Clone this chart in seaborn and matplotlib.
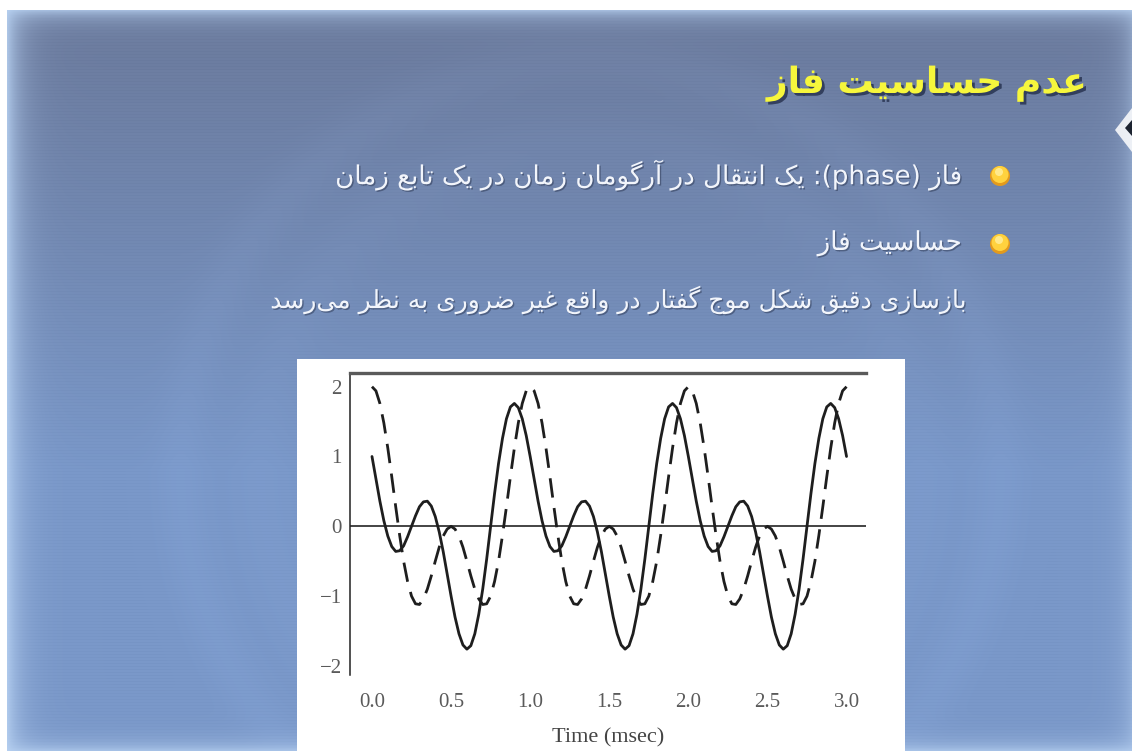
import re
import numpy as np
import matplotlib
matplotlib.use("Agg")
import matplotlib.pyplot as plt
import matplotlib.patheffects as pe
from matplotlib.patches import Circle, Polygon, Rectangle
import seaborn as sns

# ---------------------------------------------------------------- text
TITLE = "عدم حساسیت فاز"
BULLETS = [
    "فاز (phase): یک انتقال در آرگومان زمان در یک تابع زمان",
    "حساسیت فاز",
]
NOTE = "بازسازی دقیق شکل موج گفتار در واقع غیر ضروری به نظر می\u200cرسد"
X_LABEL = "Time (msec)"
X_TICKS = [0.0, 0.5, 1.0, 1.5, 2.0, 2.5, 3.0]
Y_TICKS = [-2, -1, 0, 1, 2]

# ---------------------------------------------------------------- data
STEP_MS = 0.025  # sample spacing of the two waveforms (msec)

# waveform with shifted second harmonic (solid)
SOLID = [
    1.00, 0.68, 0.36, 0.08, -0.14, -0.29, -0.36, -0.35, -0.28, -0.15,
    0.00, 0.15, 0.28, 0.35, 0.36, 0.29, 0.14, -0.08, -0.36, -0.68,
    -1.00, -1.30, -1.54, -1.70, -1.76, -1.71, -1.54, -1.26, -0.90, -0.47,
    0.00, 0.47, 0.90, 1.26, 1.54, 1.71, 1.76, 1.70, 1.54, 1.30,
    1.00, 0.68, 0.36, 0.08, -0.14, -0.29, -0.36, -0.35, -0.28, -0.15,
    0.00, 0.15, 0.28, 0.35, 0.36, 0.29, 0.14, -0.08, -0.36, -0.68,
    -1.00, -1.30, -1.54, -1.70, -1.76, -1.71, -1.54, -1.26, -0.90, -0.47,
    0.00, 0.47, 0.90, 1.26, 1.54, 1.71, 1.76, 1.70, 1.54, 1.30,
    1.00, 0.68, 0.36, 0.08, -0.14, -0.29, -0.36, -0.35, -0.28, -0.15,
    0.00, 0.15, 0.28, 0.35, 0.36, 0.29, 0.14, -0.08, -0.36, -0.68,
    -1.00, -1.30, -1.54, -1.70, -1.76, -1.71, -1.54, -1.26, -0.90, -0.47,
    0.00, 0.47, 0.90, 1.26, 1.54, 1.71, 1.76, 1.70, 1.54, 1.30,
    1.00,
]

# waveform with both harmonics in phase (dashed)
DASHED = [
    2.00, 1.94, 1.76, 1.48, 1.12, 0.71, 0.28, -0.13, -0.50, -0.79,
    -1.00, -1.11, -1.12, -1.04, -0.90, -0.71, -0.50, -0.30, -0.14, -0.04,
    0.00, -0.04, -0.14, -0.30, -0.50, -0.71, -0.90, -1.04, -1.12, -1.11,
    -1.00, -0.79, -0.50, -0.13, 0.28, 0.71, 1.12, 1.48, 1.76, 1.94,
    2.00, 1.94, 1.76, 1.48, 1.12, 0.71, 0.28, -0.13, -0.50, -0.79,
    -1.00, -1.11, -1.12, -1.04, -0.90, -0.71, -0.50, -0.30, -0.14, -0.04,
    0.00, -0.04, -0.14, -0.30, -0.50, -0.71, -0.90, -1.04, -1.12, -1.11,
    -1.00, -0.79, -0.50, -0.13, 0.28, 0.71, 1.12, 1.48, 1.76, 1.94,
    2.00, 1.94, 1.76, 1.48, 1.12, 0.71, 0.28, -0.13, -0.50, -0.79,
    -1.00, -1.11, -1.12, -1.04, -0.90, -0.71, -0.50, -0.30, -0.14, -0.04,
    0.00, -0.04, -0.14, -0.30, -0.50, -0.71, -0.90, -1.04, -1.12, -1.11,
    -1.00, -0.79, -0.50, -0.13, 0.28, 0.71, 1.12, 1.48, 1.76, 1.94,
    2.00,
]

# ---------------------------------------------------------------- Persian shaping
# isolated, final, initial, medial presentation forms
FORMS = {
    "\u0627": (0xFE8D, 0xFE8E, None, None),
    "\u0622": (0xFE81, 0xFE82, None, None),
    "\u0628": (0xFE8F, 0xFE90, 0xFE91, 0xFE92),
    "\u067E": (0xFB56, 0xFB57, 0xFB58, 0xFB59),
    "\u062A": (0xFE95, 0xFE96, 0xFE97, 0xFE98),
    "\u062B": (0xFE99, 0xFE9A, 0xFE9B, 0xFE9C),
    "\u062C": (0xFE9D, 0xFE9E, 0xFE9F, 0xFEA0),
    "\u0686": (0xFB7A, 0xFB7B, 0xFB7C, 0xFB7D),
    "\u062D": (0xFEA1, 0xFEA2, 0xFEA3, 0xFEA4),
    "\u062E": (0xFEA5, 0xFEA6, 0xFEA7, 0xFEA8),
    "\u062F": (0xFEA9, 0xFEAA, None, None),
    "\u0630": (0xFEAB, 0xFEAC, None, None),
    "\u0631": (0xFEAD, 0xFEAE, None, None),
    "\u0632": (0xFEAF, 0xFEB0, None, None),
    "\u0698": (0xFB8A, 0xFB8B, None, None),
    "\u0633": (0xFEB1, 0xFEB2, 0xFEB3, 0xFEB4),
    "\u0634": (0xFEB5, 0xFEB6, 0xFEB7, 0xFEB8),
    "\u0635": (0xFEB9, 0xFEBA, 0xFEBB, 0xFEBC),
    "\u0636": (0xFEBD, 0xFEBE, 0xFEBF, 0xFEC0),
    "\u0637": (0xFEC1, 0xFEC2, 0xFEC3, 0xFEC4),
    "\u0638": (0xFEC5, 0xFEC6, 0xFEC7, 0xFEC8),
    "\u0639": (0xFEC9, 0xFECA, 0xFECB, 0xFECC),
    "\u063A": (0xFECD, 0xFECE, 0xFECF, 0xFED0),
    "\u0641": (0xFED1, 0xFED2, 0xFED3, 0xFED4),
    "\u0642": (0xFED5, 0xFED6, 0xFED7, 0xFED8),
    "\u06A9": (0xFB8E, 0xFB8F, 0xFB90, 0xFB91),
    "\u06AF": (0xFB92, 0xFB93, 0xFB94, 0xFB95),
    "\u0644": (0xFEDD, 0xFEDE, 0xFEDF, 0xFEE0),
    "\u0645": (0xFEE1, 0xFEE2, 0xFEE3, 0xFEE4),
    "\u0646": (0xFEE5, 0xFEE6, 0xFEE7, 0xFEE8),
    "\u0647": (0xFEE9, 0xFEEA, 0xFEEB, 0xFEEC),
    "\u0648": (0xFEED, 0xFEEE, None, None),
    "\u06CC": (0xFBFC, 0xFBFD, 0xFBFE, 0xFBFF),
}


def rtl(text):
    """Join Persian letters and lay the line out right-to-left."""
    out = []
    n = len(text)
    for i, c in enumerate(text):
        if c == "\u200c":
            continue
        if c not in FORMS:
            out.append(c)
            continue
        prev = text[i - 1] if i > 0 else ""
        nxt = text[i + 1] if i + 1 < n else ""
        join_prev = prev in FORMS and FORMS[prev][2] is not None
        join_next = nxt in FORMS and FORMS[c][2] is not None
        iso, fin, ini, med = FORMS[c]
        if join_prev and join_next:
            code = med
        elif join_prev:
            code = fin
        elif join_next:
            code = ini
        else:
            code = iso
        out.append(chr(code))
    s = "".join(out)[::-1]
    s = re.sub(r"[A-Za-z]+", lambda m: m.group(0)[::-1], s)
    return s.translate(str.maketrans("()", ")("))


# ---------------------------------------------------------------- figure
sns.set_style("white")
plt.rcParams["font.family"] = ["DejaVu Sans"]

W, H = 1132, 751
fig = plt.figure(figsize=(W / 100, H / 100), dpi=100)

# slide background
yy, xx = np.mgrid[0:H, 0:W].astype(float)
top_c = np.array([0x6c, 0x7c, 0x9f]) / 255.0
bot_c = np.array([0x7a, 0x98, 0xc9]) / 255.0
f = np.clip((yy - 40) / 430.0, 0, 1)[..., None]
img = top_c * (1 - f) + bot_c * f
# faint circular emblem
r = np.hypot(xx - 590, yy - 470)
ring = np.exp(-((r - 410) / 26.0) ** 2) * 0.018 + np.exp(-((r - 330) / 30.0) ** 2) * 0.012
img = img + ring[..., None] * np.array([0.8, 0.9, 1.0])
# horizontal scan lines
img[(yy.astype(int) % 3) == 0] -= 0.012
# light edges
light = np.array([0xb8, 0xd2, 0xf2]) / 255.0
for wgt in (
    np.exp(-np.clip(xx - 7, 0, None) / 14.0) * 0.85,
    np.exp(-np.clip(yy - 10, 0, None) / 9.0) * 0.75,
    np.exp(-np.clip(W - xx, 0, None) / 12.0) * 0.45,
    np.exp(-np.clip(H - yy, 0, None) / 9.0) * 0.8,
):
    img = img * (1 - wgt[..., None]) + light * wgt[..., None]
img[yy < 10] = 1.0
img[xx < 7] = 1.0
img = np.clip(img, 0, 1)

ax_bg = fig.add_axes([0, 0, 1, 1])
ax_bg.imshow(img, extent=(0, W, H, 0), interpolation="bilinear", aspect="auto")
ax_bg.set_xlim(0, W)
ax_bg.set_ylim(H, 0)
ax_bg.axis("off")

# right-edge notch
ax_bg.add_patch(Polygon([(1132, 108), (1115, 130), (1132, 152)], closed=True,
                        facecolor="white", edgecolor="none", alpha=0.85))
ax_bg.add_patch(Polygon([(1132, 120), (1125, 128), (1132, 136)], closed=True,
                        facecolor="#1c2330", edgecolor="none"))

# title
ax_bg.text(1087, 84, rtl(TITLE), ha="right", va="center", fontsize=26,
           fontweight="bold", color="#f6f63c",
           path_effects=[pe.withSimplePatchShadow(offset=(2, -2),
                                                  shadow_rgbFace="#1a2440",
                                                  alpha=0.7)])

shadow = [pe.withSimplePatchShadow(offset=(1, -1), shadow_rgbFace="#2a3550", alpha=0.5)]

# bullet lines
for text, y in zip(BULLETS, [175, 243]):
    ax_bg.text(962, y, rtl(text), ha="right", va="center", fontsize=18.8,
               color="#f2f5fb", path_effects=shadow)
    ax_bg.add_patch(Circle((1000, y + 1), 10, facecolor="#e39a1c", edgecolor="none"))
    ax_bg.add_patch(Circle((1000, y - 0.5), 8.5, facecolor="#ffd23e", edgecolor="none"))
    ax_bg.add_patch(Circle((999, y - 3), 4, facecolor="#fff0a0", edgecolor="none", alpha=0.8))

ax_bg.text(967, 300, rtl(NOTE), ha="right", va="center", fontsize=18,
           color="#f2f5fb", path_effects=shadow)

# white panel holding the plot
ax_bg.add_patch(Rectangle((297, 359), 608, 400, facecolor="white", edgecolor="none"))

# ---------------------------------------------------------------- plot
ax = fig.add_axes([350 / W, (H - 675) / H, 516 / W, 302 / H])
ax.set_facecolor("none")

t = np.arange(len(SOLID)) * STEP_MS
sns.lineplot(x=t, y=SOLID, ax=ax, color="#1e1e1e", lw=2.0, sort=False)
sns.lineplot(x=t, y=DASHED, ax=ax, color="#1e1e1e", lw=2.0, sort=False,
             linestyle=(0, (7, 3.8)))
ax.axhline(0, color="#111111", lw=1.1, zorder=1)

ax.set_xlim(-0.139, 3.123)
ax.set_ylim(-2.13, 2.196)

for side in ("bottom", "right"):
    ax.spines[side].set_visible(False)
ax.spines["left"].set_color("#222222")
ax.spines["left"].set_linewidth(1.1)
ax.spines["top"].set_color("#5a5a5a")
ax.spines["top"].set_linewidth(2.4)

serif = ["Liberation Serif", "DejaVu Serif"]
ax.set_xticks(X_TICKS)
ax.set_xticklabels([f"{v:.1f}" for v in X_TICKS], family=serif, fontsize=15, color="#5a5a5a")
ax.set_yticks(Y_TICKS)
ax.set_yticklabels([f"{v}".replace("-", "\u2212") for v in Y_TICKS], family=serif,
                   fontsize=15, color="#5a5a5a")
ax.tick_params(axis="x", direction="out", length=2, width=1.6, color="#555555", pad=11)
ax.tick_params(axis="y", direction="out", length=0, pad=6)
ax.set_xlabel(X_LABEL, family=serif, fontsize=16, color="#444444")
ax.xaxis.set_label_coords(0.5, -0.175)
ax.set_ylabel("")
ax.grid(False)

fig.savefig("out.png", dpi=100)
